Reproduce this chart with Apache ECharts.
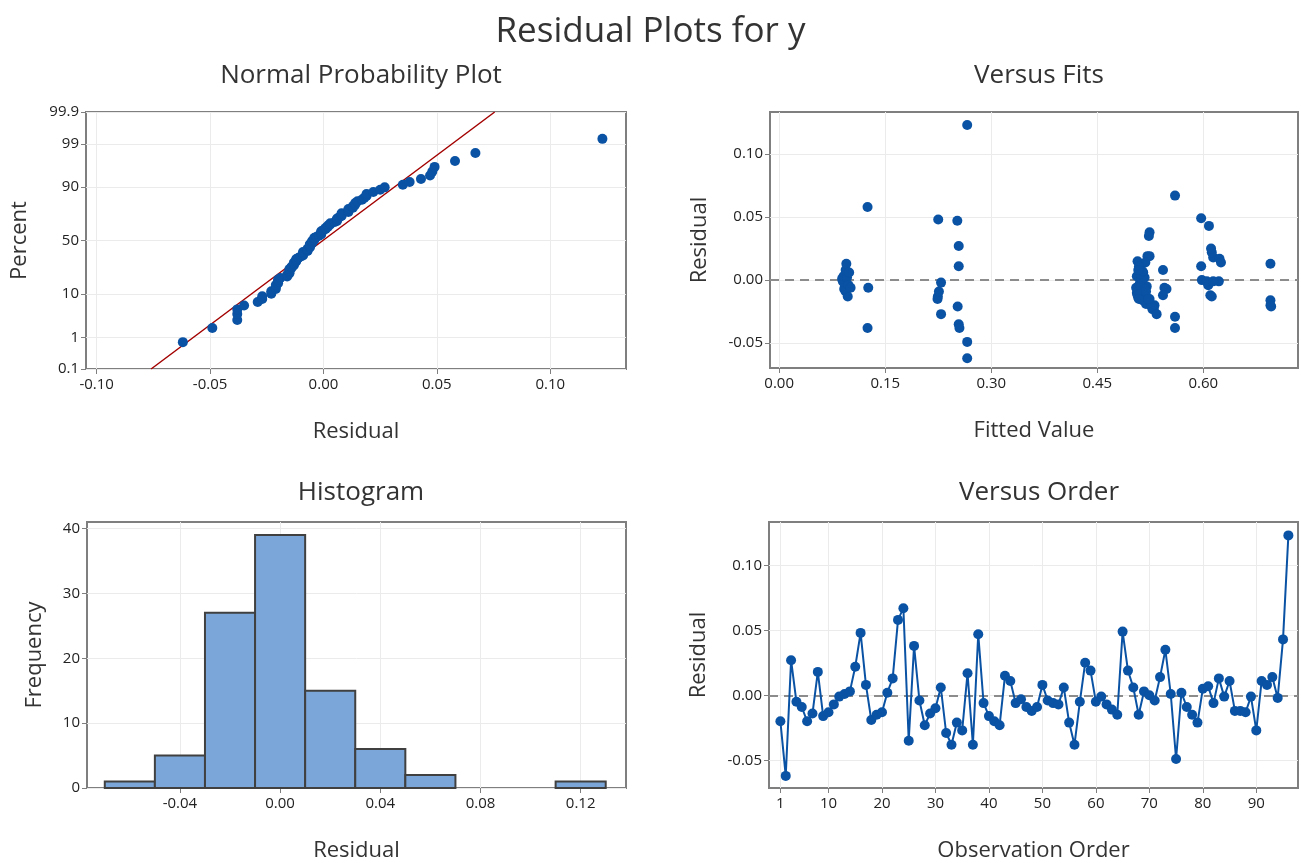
<!DOCTYPE html>
<html>
<head>
<meta charset="utf-8">
<title>Residual Plots for y</title>
<script src="https://cdn.jsdelivr.net/npm/echarts@6/dist/echarts.min.js"></script>
<style>
  html, body { margin: 0; padding: 0; background: #fff; }
  #chart { width: 1301px; height: 863px; }
</style>
</head>
<body>
<div id="chart"></div>
<script>
// residuals in observation order
const residuals = [
  -0.020, -0.062, 0.027, -0.005, -0.009, -0.020, -0.014, 0.018, -0.016, -0.013,
  -0.007, -0.001, 0.001, 0.003, 0.022, 0.048, 0.008, -0.019, -0.015, -0.013,
  0.002, 0.013, 0.058, 0.067, -0.035, 0.038, -0.004, -0.023, -0.014, -0.010,
  0.006, -0.029, -0.038, -0.021, -0.027, 0.017, -0.038, 0.047, -0.006, -0.016,
  -0.020, -0.023, 0.015, 0.011, -0.006, -0.003, -0.009, -0.012, -0.009, 0.008,
  -0.004, -0.006, -0.007, 0.006, -0.021, -0.038, -0.005, 0.025, 0.019, -0.005,
  -0.001, -0.007, -0.011, -0.015, 0.049, 0.019, 0.006, -0.015, 0.003, 0.000,
  -0.004, 0.014, 0.035, 0.001, -0.049, 0.002, -0.009, -0.015, -0.021, 0.005,
  0.007, -0.006, 0.013, -0.001, 0.011, -0.012, -0.012, -0.013, -0.001, -0.027,
  0.011, 0.008, 0.014, -0.002, 0.043, 0.123
];

// fitted values, same order
const fitted = [
  0.526, 0.266, 0.254, 0.093, 0.094, 0.531, 0.512, 0.614, 0.695, 0.097,
  0.092, 0.090, 0.089, 0.091, 0.612, 0.225, 0.094, 0.519, 0.224, 0.2245,
  0.096, 0.095, 0.125, 0.560, 0.254, 0.524, 0.098, 0.530, 0.508, 0.506,
  0.099, 0.560, 0.125, 0.2525, 0.229, 0.623, 0.255, 0.252, 0.101, 0.514,
  0.695, 0.528, 0.507, 0.254, 0.505, 0.510, 0.226, 0.507, 0.513, 0.543,
  0.516, 0.545, 0.548, 0.509, 0.527, 0.560, 0.520, 0.611, 0.521, 0.512,
  0.622, 0.518, 0.511, 0.524, 0.597, 0.524, 0.515, 0.509, 0.506, 0.598,
  0.607, 0.518, 0.523, 0.513, 0.266, 0.517, 0.519, 0.522, 0.696, 0.511,
  0.514, 0.126, 0.695, 0.605, 0.597, 0.610, 0.543, 0.612, 0.614, 0.534,
  0.509, 0.508, 0.625, 0.229, 0.608, 0.266
];

// histogram
const binCenters = [-0.06, -0.04, -0.02, 0.00, 0.02, 0.04, 0.06, 0.08, 0.10, 0.12];
const binCounts = [1, 5, 27, 39, 15, 6, 2, 0, 0, 1];
const binWidth = 0.02;

// fitted normal line on the probability plot (two ends)
const lineResid = [-0.076, 0.0755];
const linePct = [0.1, 99.9];

// tick labels
const npResidTicks = [-0.10, -0.05, 0.00, 0.05, 0.10];
const npPctTicks = [0.1, 1, 10, 50, 90, 99, 99.9];
const fitTicks = [0.00, 0.15, 0.30, 0.45, 0.60];
const residTicks = [-0.05, 0.00, 0.05, 0.10];
const histResidTicks = [-0.04, 0.00, 0.04, 0.08, 0.12];
const freqTicks = [0, 10, 20, 30, 40];
const orderTicks = [1, 10, 20, 30, 40, 50, 60, 70, 80, 90];

// inverse normal cdf (Acklam) for the probability scale
function probit(p) {
  const a = [-3.969683028665376e+01, 2.209460984245205e+02, -2.759285104469687e+02, 1.383577518672690e+02, -3.066479806614716e+01, 2.506628277459239e+00];
  const b = [-5.447609879822406e+01, 1.615858368580409e+02, -1.556989798598866e+02, 6.680131188771972e+01, -1.328068155288572e+01];
  const c = [-7.784894002430293e-03, -3.223964580411365e-01, -2.400758277161838e+00, -2.549732539343734e+00, 4.374664141464968e+00, 2.938163982698783e+00];
  const d = [7.784695709041462e-03, 3.224671290700398e-01, 2.445134137142996e+00, 3.754408661907416e+00];
  const lo = 0.02425;
  if (p < lo) {
    const q = Math.sqrt(-2 * Math.log(p));
    return (((((c[0] * q + c[1]) * q + c[2]) * q + c[3]) * q + c[4]) * q + c[5]) / ((((d[0] * q + d[1]) * q + d[2]) * q + d[3]) * q + 1);
  }
  if (p > 1 - lo) {
    const q = Math.sqrt(-2 * Math.log(1 - p));
    return -(((((c[0] * q + c[1]) * q + c[2]) * q + c[3]) * q + c[4]) * q + c[5]) / ((((d[0] * q + d[1]) * q + d[2]) * q + d[3]) * q + 1);
  }
  const q = p - 0.5, r = q * q;
  return (((((a[0] * r + a[1]) * r + a[2]) * r + a[3]) * r + a[4]) * r + a[5]) * q / (((((b[0] * r + b[1]) * r + b[2]) * r + b[3]) * r + b[4]) * r + 1);
}

const n = residuals.length;
const sorted = residuals.slice().sort((x, y) => x - y);
const probPoints = sorted.map((r, i) => [r, probit((i + 1 - 0.3) / (n + 0.4))]);
const zTicks = npPctTicks.map((p) => probit(p / 100));

const BLUE = "#0a52a3";
const TEXT = "#222";
const FONT = "'Open Sans', 'Noto Sans', sans-serif";

const chart = echarts.init(document.getElementById("chart"));

const gridStyle = { show: true, borderColor: "#7f7f7f", borderWidth: 2, backgroundColor: "#fff" };
const split = { show: true, lineStyle: { color: "#ebebeb", width: 1 } };
const tick = (vals) => ({ show: true, length: 5, lineStyle: { color: "#7f7f7f", width: 1 }, customValues: vals });
const lbl = (vals, fmt, extra) => Object.assign({ color: TEXT, fontSize: 15, fontFamily: FONT, customValues: vals, formatter: fmt }, extra || {});
const nameStyle = { color: "#333", fontSize: 22, fontFamily: FONT };
const fix2 = (v) => Number(v).toFixed(2);

function xAx(gridIndex, min, max, ticks, fmt, name) {
  return {
    type: "value", gridIndex, min, max,
    axisLine: { show: false, onZero: false }, axisTick: tick(ticks), axisLabel: lbl(ticks, fmt, { margin: 8 }),
    splitLine: split, name, nameLocation: "middle", nameGap: 52, nameTextStyle: nameStyle,
  };
}
function yAx(gridIndex, min, max, ticks, fmt, name, gap) {
  return {
    type: "value", gridIndex, min, max,
    axisLine: { show: false, onZero: false }, axisTick: tick(ticks), axisLabel: lbl(ticks, fmt, { margin: 7 }),
    splitLine: split, name, nameLocation: "middle", nameGap: gap, nameTextStyle: nameStyle,
  };
}

const subTitle = (text, x, y) => ({
  text, left: x, top: y, textAlign: "center",
  textStyle: { color: "#333", fontSize: 26, fontWeight: "normal", fontFamily: FONT },
});

chart.setOption({
  animation: false,
  backgroundColor: "#fff",
  textStyle: { fontFamily: FONT },
  title: [
    { text: "Residual Plots for y", left: "center", top: 10,
      textStyle: { color: "#333", fontSize: 35, fontWeight: "normal", fontFamily: FONT } },
    subTitle("Normal Probability Plot", 356, 58),
    subTitle("Versus Fits", 1034, 58),
    subTitle("Histogram", 356, 475),
    subTitle("Versus Order", 1034, 475),
  ],
  grid: [
    Object.assign({ left: 86, top: 112, width: 540, height: 257 }, gridStyle),
    Object.assign({ left: 770, top: 112, width: 528, height: 256 }, gridStyle),
    Object.assign({ left: 87, top: 522, width: 539, height: 267 }, gridStyle),
    Object.assign({ left: 769, top: 522, width: 529, height: 266 }, gridStyle),
  ],
  xAxis: [
    xAx(0, -0.1047, 0.1334, npResidTicks, fix2, "Residual"),
    xAx(1, -0.013, 0.734, fitTicks, fix2, "Fitted Value"),
    xAx(2, -0.0771, 0.1381, histResidTicks, fix2, "Residual"),
    xAx(3, -1.13, 97.8, orderTicks, (v) => String(v), "Observation Order"),
  ],
  yAxis: [
    yAx(0, zTicks[0], zTicks[zTicks.length - 1], zTicks, (v) => {
      const i = zTicks.findIndex((z) => Math.abs(z - v) < 1e-6);
      return i >= 0 ? String(npPctTicks[i]) : "";
    }, "Percent", 55),
    yAx(1, -0.0697, 0.1333, residTicks, fix2, "Residual", 59),
    yAx(2, 0, 41, freqTicks, (v) => String(v), "Frequency", 41),
    yAx(3, -0.0713, 0.1333, residTicks, fix2, "Residual", 59),
  ],
  series: [
    {
      type: "line", xAxisIndex: 0, yAxisIndex: 0, z: 2,
      data: lineResid.map((r, i) => [r, probit(linePct[i] / 100)]),
      showSymbol: false, lineStyle: { color: "#a30000", width: 1.5 }, silent: true,
    },
    {
      type: "scatter", xAxisIndex: 0, yAxisIndex: 0, z: 3,
      data: probPoints, symbolSize: 10, itemStyle: { color: BLUE, opacity: 1 },
    },
    {
      type: "scatter", xAxisIndex: 1, yAxisIndex: 1, z: 3,
      data: fitted.map((f, i) => [f, residuals[i]]),
      symbolSize: 10, itemStyle: { color: BLUE, opacity: 1 },
      markLine: {
        silent: true, symbol: "none", z: 1, label: { show: false },
        lineStyle: { color: "#8c8c8c", type: [9, 6], width: 2 },
        data: [{ yAxis: 0 }],
      },
    },
    {
      type: "custom", xAxisIndex: 2, yAxisIndex: 2, z: 3,
      data: binCenters.map((c, i) => [c, binCounts[i]]),
      renderItem: (params, api) => {
        const c = api.value(0), h = api.value(1);
        if (!h) return null;
        const p0 = api.coord([c - binWidth / 2, h]);
        const p1 = api.coord([c + binWidth / 2, 0]);
        return {
          type: "rect",
          shape: { x: p0[0], y: p0[1], width: p1[0] - p0[0], height: p1[1] - p0[1] },
          style: { fill: "#7ba6d9", stroke: "#404040", lineWidth: 2 },
        };
      },
    },
    {
      type: "line", xAxisIndex: 3, yAxisIndex: 3, z: 3,
      data: residuals.map((r, i) => [i + 1, r]),
      symbol: "circle", symbolSize: 10, showAllSymbol: true,
      itemStyle: { color: BLUE }, lineStyle: { color: BLUE, width: 2 },
      markLine: {
        silent: true, symbol: "none", z: 1, label: { show: false },
        lineStyle: { color: "#8c8c8c", type: [9, 6], width: 2 },
        data: [{ yAxis: 0 }],
      },
    },
  ],
});
</script>
</body>
</html>
